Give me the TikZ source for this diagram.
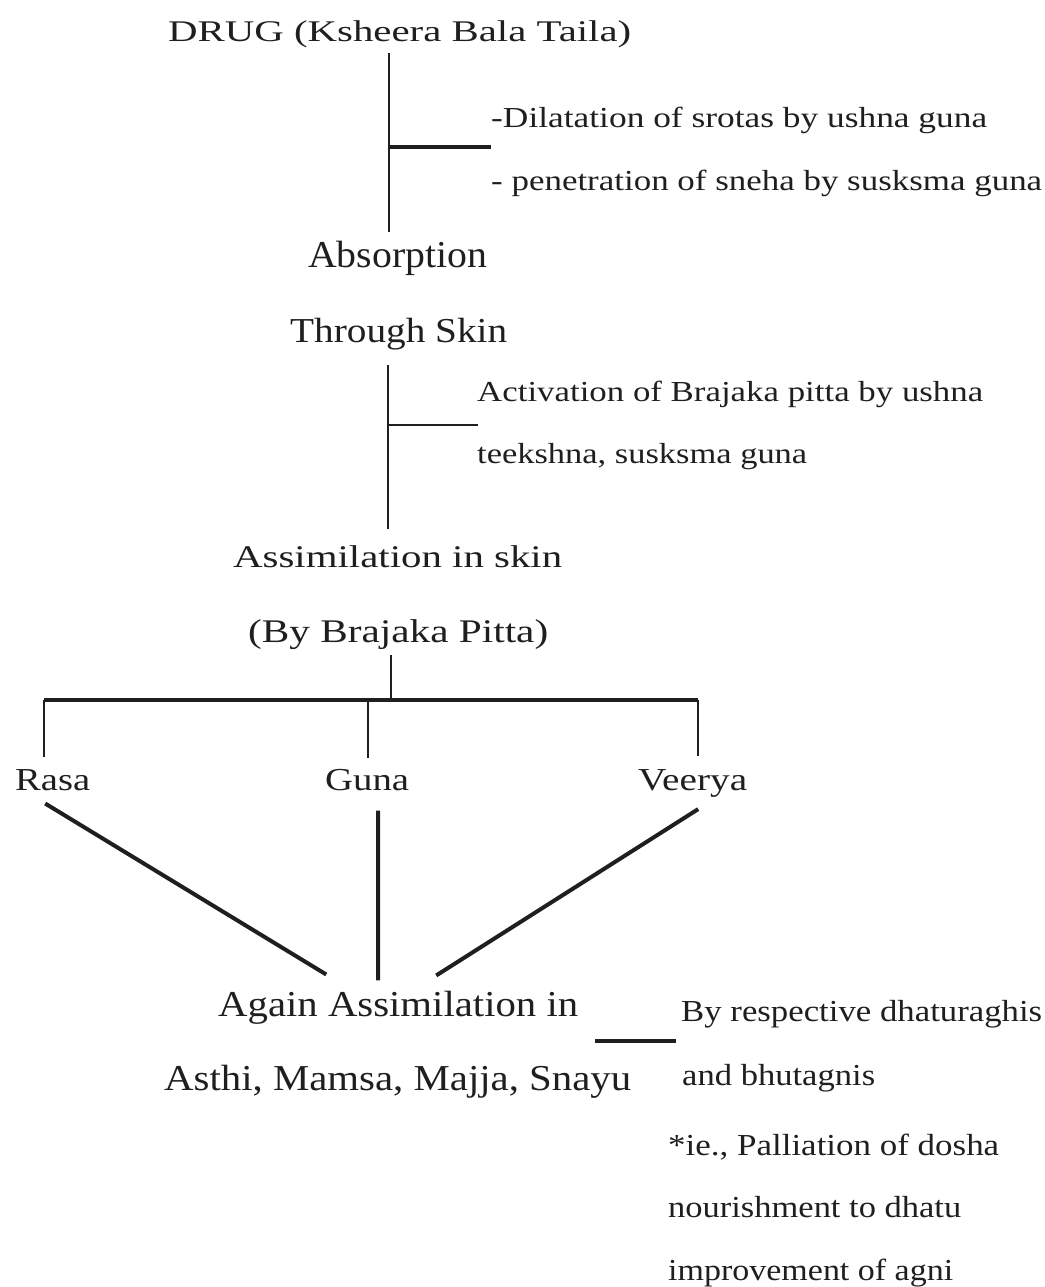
\documentclass[tikz,border=0pt]{standalone}
\usepackage{fontspec}
\setmainfont{Liberation Serif}
\usepackage{graphicx}
\newcommand{\lbl}[3]{\resizebox{#2pt}{\height}{\fontsize{#1}{#1}\selectfont #3}}
\begin{document}
\begin{tikzpicture}[x=1pt,y=-1pt,
  txt/.style={inner sep=0pt, anchor=base west, text=black!88},
  conn/.style={line width=2.8pt, draw=black!88},
  boldconn/.style={line width=4pt, draw=black!88}]
\useasboundingbox (0,0) rectangle (1044,1287);
\fill[white] (0,0) rectangle (1044,1287);

% texts
\node[txt] (drug) at (168,42) {\lbl{30}{463}{DRUG (Ksheera Bala Taila)}};
\node[txt] (dil) at (491,127) {\lbl{29}{496}{-Dilatation of srotas by ushna guna}};
\node[txt] (pen) at (491,190) {\lbl{29}{551}{- penetration of sneha by susksma guna}};
\node[txt] (abs) at (308,267) {\lbl{38}{179}{Absorption}};
\node[txt] (thr) at (290,342) {\lbl{35}{217}{Through Skin}};
\node[txt] (act) at (477,401) {\lbl{29}{506}{Activation of Brajaka pitta by ushna}};
\node[txt] (tee) at (477,463) {\lbl{29}{330}{teekshna, susksma guna}};
\node[txt] (asim) at (233,567) {\lbl{31.5}{329}{Assimilation in skin}};
\node[txt] (bybr) at (248,642) {\lbl{33}{300}{(By Brajaka Pitta)}};
\node[txt] (rasa) at (15,790) {\lbl{32}{75}{Rasa}};
\node[txt] (guna) at (325,790) {\lbl{32}{84}{Guna}};
\node[txt] (veer) at (638,790) {\lbl{32}{109}{Veerya}};
\node[txt] (again) at (218,1016) {\lbl{36.5}{360}{Again Assimilation in}};
\node[txt] (asthi) at (164,1090) {\lbl{36.5}{467}{Asthi, Mamsa, Majja, Snayu}};
\node[txt] (byresp) at (681,1021) {\lbl{30.5}{361}{By respective dhaturaghis}};
\node[txt] (andb) at (682,1085) {\lbl{30.5}{193}{and bhutagnis}};
\node[txt] (ie) at (668,1155) {\lbl{30.5}{331}{*ie., Palliation of dosha}};
\node[txt] (nour) at (668,1217) {\lbl{30.5}{293}{nourishment to dhatu}};
\node[txt] (impr) at (668,1280) {\lbl{30.5}{285}{improvement of agni}};

% junction coordinates
\coordinate (j1) at (389,147);
\coordinate (j2) at (388,425);
\coordinate (bus) at (391,700);
\coordinate (busL) at (44,700);
\coordinate (busM) at (368,700);
\coordinate (busR) at (698,700);
\coordinate (s1) at (595,1041);
\coordinate (s2) at (676,1041);

% first trunk
\draw[conn] ([yshift=-4.5pt]drug.south -| j1) -- ([yshift=8pt]abs.north -| j1);
\draw[boldconn] (j1) -- (j1 -| dil.west);

% second trunk
\draw[conn] ([yshift=-15pt]thr.south -| j2) -- ([yshift=15.5pt]asim.north -| j2);
\draw[conn] (j2) -- ([xshift=1pt]j2 -| act.west);

% bus
\draw[conn] ([yshift=-6pt]bybr.south -| bus) -- (bus);
\draw[boldconn] (busL) -- (busR);
\draw[conn] (busL) -- ([yshift=12pt]rasa.north -| busL);
\draw[conn] (busM) -- ([yshift=11pt]guna.north -| busM);
\draw[conn] (busR) -- ([yshift=13pt]veer.north -| busR);

% diagonals
\draw[boldconn] ([xshift=-7.5pt,yshift=-13pt]rasa.south) -- ([xshift=-72pt,yshift=16pt]again.north);
\draw[boldconn] ([xshift=11pt,yshift=-20pt]guna.south) -- ([xshift=-20pt,yshift=10pt]again.north);
\draw[boldconn] ([xshift=5.5pt,yshift=-12pt]veer.south) -- ([xshift=38pt,yshift=15pt]again.north);

% short connector
\draw[boldconn] (s1) -- (s2);
\end{tikzpicture}
\end{document}
